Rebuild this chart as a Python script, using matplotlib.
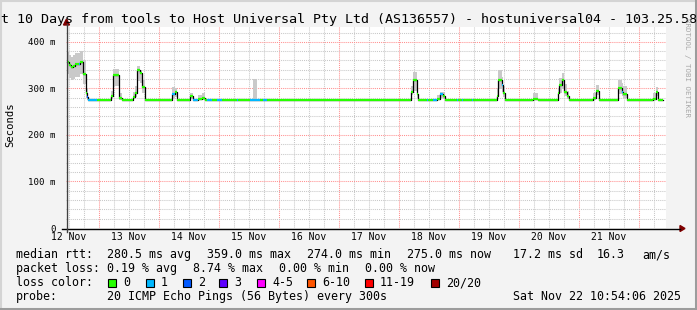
import matplotlib.pyplot as plt
from matplotlib.patches import Rectangle, Polygon
from matplotlib.lines import Line2D
import numpy as np

W, H = 697, 310
MONO = 'DejaVu Sans Mono'

# median rtt as steps: start (days since 12 Nov 00:00), value (ms), loss bucket, smoke range (ms)
seg_start = [0.47, 0.50, 0.54, 0.57, 0.60, 0.67, 0.69, 0.74, 0.79, 0.80, 0.82, 0.97,
             1.20, 1.24, 1.34, 1.39, 1.57, 1.60, 1.64, 1.69, 1.72, 1.77,
             2.22, 2.27, 2.31, 2.52, 2.57, 2.65, 2.72, 2.77, 2.80, 2.89, 2.97, 3.05, 3.30, 3.32, 3.52, 3.57, 3.64, 3.69, 3.74, 3.80,
             6.20, 6.24, 6.30, 6.32, 6.47, 6.49, 6.57, 6.64, 6.69, 6.74, 6.77, 6.97, 6.99, 7.05, 7.07, 7.22, 7.24,
             7.64, 7.65, 7.72, 7.74, 7.77, 8.24, 8.32, 8.65, 8.67, 8.72, 8.75, 8.80, 8.84, 9.24, 9.29, 9.34, 9.65, 9.72, 9.74, 9.80, 10.24, 10.29, 10.32]
seg_median = [357, 350, 345, 348, 352, 353, 357, 331, 290, 282, 274, 274,
              284, 329, 279, 274, 282, 290, 340, 334, 302, 274,
              288, 293, 274, 283, 274, 277, 280, 274, 274, 274, 274, 274, 274, 274, 274, 274, 274, 274, 274, 274,
              292, 318, 287, 274, 274, 274, 274, 277, 287, 284, 274, 274, 274, 274, 274, 274, 274,
              284, 318, 307, 290, 274, 277, 274, 290, 307, 317, 293, 283, 274, 279, 295, 274, 300, 293, 288, 274, 278, 293, 274]
seg_loss = [0, 0, 0, 0, 0, 1, 0, 0, 0, 2, 1, 0,
            0, 0, 0, 0, 0, 0, 0, 0, 0, 0,
            1, 0, 0, 0, 1, 0, 0, 0, 1, 0, 1, 0, 1, 0, 1, 1, 1, 0, 1, 0,
            0, 0, 0, 0, 1, 0, 1, 0, 1, 0, 0, 1, 0, 1, 0, 1, 0,
            0, 0, 1, 0, 0, 0, 0, 0, 0, 0, 0, 0, 0, 0, 0, 0, 0, 1, 0, 0, 0, 0, 0]
smoke_lo = [330, 322, 318, 320, 325, 325, 330, 310, 280, 276, 274, 274,
            278, 305, 275, 274, 277, 282, 315, 312, 290, 274,
            280, 282, 274, 277, 274, 274, 275, 274, 274, 274, 274, 274, 274, 274, 274, 274, 274, 274, 274, 274,
            285, 295, 280, 274, 274, 274, 274, 274, 280, 278, 274, 274, 274, 274, 274, 274, 274,
            278, 298, 292, 282, 274, 274, 274, 282, 290, 298, 284, 278, 274, 275, 285, 274, 288, 284, 280, 274, 275, 284, 274]
smoke_hi = [378, 372, 368, 372, 376, 376, 380, 360, 320, 300, 274, 274,
            295, 342, 290, 274, 292, 305, 348, 340, 318, 274,
            304, 300, 274, 290, 274, 285, 290, 274, 274, 274, 274, 274, 274, 274, 274, 320, 274, 274, 274, 274,
            305, 336, 300, 274, 274, 274, 274, 285, 293, 292, 274, 274, 274, 274, 274, 274, 274,
            300, 340, 325, 305, 274, 290, 274, 300, 322, 333, 310, 295, 274, 290, 307, 274, 318, 312, 305, 274, 290, 304, 274]
data_end = 10.40

loss_labels = ['0', '1', '2', '3', '4-5', '6-10', '11-19', '20/20']
loss_colors = ['#26ff00', '#00b8ff', '#0059ff', '#5e00ff', '#ff00ff', '#ff5500', '#ff0000', '#a10000']

day_labels = ['12 Nov', '13 Nov', '14 Nov', '15 Nov', '16 Nov', '17 Nov', '18 Nov', '19 Nov', '20 Nov', '21 Nov']
y_ticks = [0, 100, 200, 300, 400]

title = 't 10 Days from tools to Host Universal Pty Ltd (AS136557) - hostuniversal04 - 103.25.58'


def fx(px):
    return px / W


def fy(py):
    return 1 - py / H


fig = plt.figure(figsize=(W / 100, H / 100), dpi=100, facecolor='#f3f3f3')

# plot area
x0, x1, ytop, ybot = 66, 666, 26.5, 228
ax = fig.add_axes([fx(x0), fy(ybot), fx(x1) - fx(x0), fy(ytop) - fy(ybot)])
ax.set_facecolor('white')
ax.set_xlim(0.454, 10.454)
ax.set_ylim(0, 433)
for s in ax.spines.values():
    s.set_visible(False)

# grid
for d in np.arange(0.5, 10.5, 0.25):
    if abs(d - round(d)) > 0.01:
        ax.axvline(d, color='#c8c8c8', lw=0.75, ls=(0, (1, 1)), zorder=1)
for d in range(1, 11):
    ax.axvline(d, color='#ff9090', lw=0.75, ls=(0, (1, 1)), zorder=1)
for v in range(20, 440, 20):
    if v % 100:
        ax.axhline(v, color='#c8c8c8', lw=0.75, ls=(0, (1, 1)), zorder=1)
for v in y_ticks[1:]:
    ax.axhline(v, color='#ff9090', lw=0.75, ls=(0, (1, 1)), zorder=1)

# smoke + median
xs = seg_start + [data_end]
lo = smoke_lo + [smoke_lo[-1]]
hi = smoke_hi + [smoke_hi[-1]]
med = seg_median + [seg_median[-1]]
ax.fill_between(xs, lo, hi, step='post', color='#c9c9c9', lw=0, zorder=2)
ax.step(xs, med, where='post', color='black', lw=0.9, zorder=3)
ax.hlines(seg_median, seg_start, xs[1:], colors=[loss_colors[c] for c in seg_loss],
          lw=1.6, zorder=4, capstyle='butt')

# ticks
ax.set_xticks(np.arange(10) + 0.5)
ax.set_xticklabels(day_labels, family=MONO, fontsize=7)
ax.set_yticks(y_ticks)
ax.set_yticklabels(['0'] + [f'{v} m' for v in y_ticks[1:]], family=MONO, fontsize=6.6)
ax.tick_params(length=0)
ax.tick_params(axis='x', pad=3)
ax.tick_params(axis='y', pad=7.5)

# axes lines with arrows
fig.add_artist(Line2D([fx(62), fx(680)], [fy(228.5), fy(228.5)], color='black', lw=1))
fig.add_artist(Line2D([fx(66.5), fx(66.5)], [fy(232), fy(24)], color='#404040', lw=1))
fig.add_artist(Polygon([[fx(680), fy(225.5)], [fx(685), fy(228.5)], [fx(680), fy(231.5)]],
                       closed=True, color='#800000', transform=fig.transFigure))
fig.add_artist(Polygon([[fx(63.5), fy(25)], [fx(66.5), fy(19)], [fx(69.5), fy(25)]],
                       closed=True, color='#800000', transform=fig.transFigure))

# texts
fig.text(fx(1), fy(19), title, family=MONO, fontsize=9.6, ha='left', va='center')
fig.text(fx(10), fy(125), 'Seconds', family=MONO, fontsize=7.6, rotation=90, ha='center', va='center')
fig.text(fx(687), fy(18), 'RRDTOOL / TOBI OETIKER', family=MONO, fontsize=5.4, color='#a8a8a8',
         rotation=270, ha='center', va='top')

fs = 8.4
rows = [
    (254.5, [(16, 'median rtt:'), (107, '280.5 ms avg'), (207, '359.0 ms max'), (307, '274.0 ms min'),
             (407, '275.0 ms now'), (513, '17.2 ms sd'), (597, '16.3'), (642, 'am/s')]),
    (268.5, [(16, 'packet loss:'), (107, '0.19 % avg'), (193, '8.74 % max'), (279, '0.00 % min'),
             (365, '0.00 % now')]),
    (282.5, [(16, 'loss color:')]),
    (296.5, [(16, 'probe:'), (107, '20 ICMP Echo Pings (56 Bytes) every 300s'),
             (513, 'Sat Nov 22 10:54:06 2025')]),
]
for yy, items in rows:
    for xx, s in items:
        fig.text(fx(xx), fy(yy), s, family=MONO, fontsize=fs, ha='left', va='center')

box_x = [108, 146, 183, 219, 257, 307, 365, 431]
for bx, lab, col in zip(box_x, loss_labels, loss_colors):
    fig.add_artist(Rectangle((fx(bx), fy(286.5)), fx(8), 8 / H, facecolor=col, edgecolor='black',
                             lw=0.8, transform=fig.transFigure))
    fig.text(fx(bx + 15), fy(282.5), lab, family=MONO, fontsize=fs, ha='left', va='center')

# frame shading
fig.add_artist(Line2D([0, 1], [fy(0.5), fy(0.5)], color='#d4d4d4', lw=1.5))
fig.add_artist(Line2D([fx(0.5), fx(0.5)], [0, 1], color='#d4d4d4', lw=1.5))
fig.add_artist(Line2D([0, 1], [fy(308.5), fy(308.5)], color='#9c9c9c', lw=2.2))
fig.add_artist(Line2D([fx(695.5), fx(695.5)], [0, 1], color='#9c9c9c', lw=2.2))

fig.savefig('out.png', dpi=100, facecolor=fig.get_facecolor())
